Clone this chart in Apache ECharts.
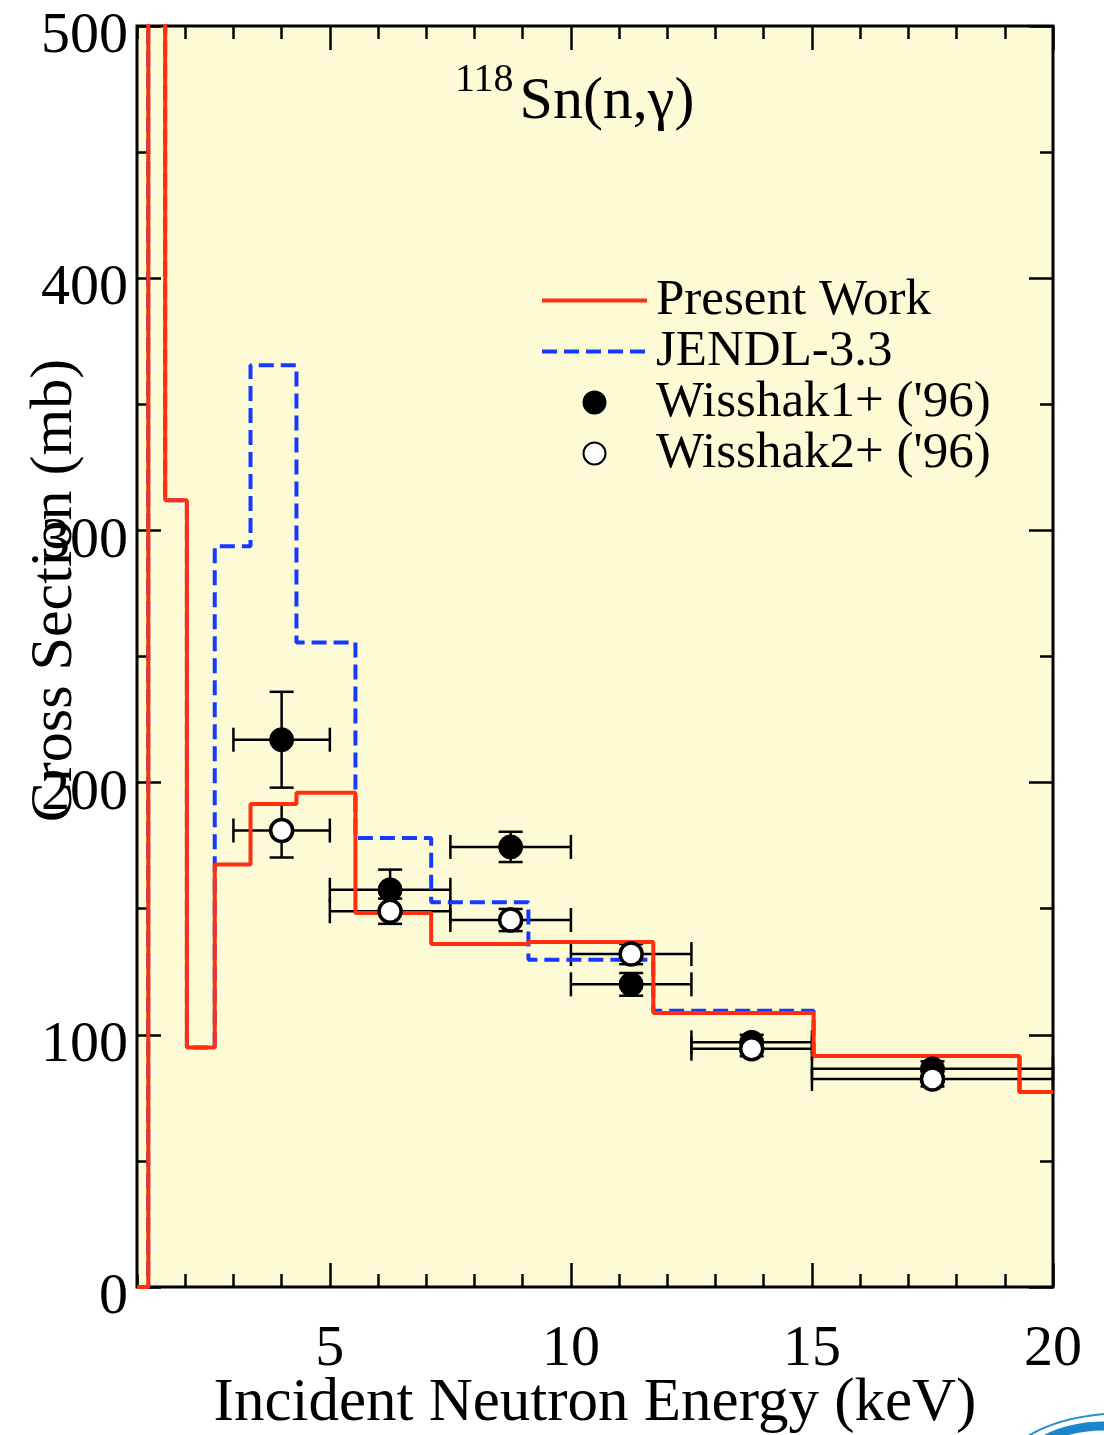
<!DOCTYPE html>
<html>
<head>
<meta charset="utf-8">
<title>118Sn(n,γ) capture cross section</title>
<script src="https://cdn.jsdelivr.net/npm/echarts@6/dist/echarts.min.js"></script>
<style>
  html, body { margin: 0; padding: 0; background: #ffffff; }
  #chart { width: 1104px; height: 1435px; }
</style>
</head>
<body>
<div id="chart"></div>
<script>
// Energy group boundaries (keV) for the evaluated step curves
const groupEdges = [1.0, 1.2341, 1.5846, 2.0347, 2.6126, 3.3546, 4.3074, 5.5308, 7.1017, 9.1188, 11.709, 15.034, 19.305, 20.0];

// Group-averaged capture cross sections (mb), one value per group
const presentWork = [0, 900, 312, 95, 167.5, 191.5, 196, 148.3, 136, 136.8, 108.6, 91.6, 77.3];
const jendl33     = [0, 900, 312, 95, 293.7, 365.5, 255.6, 178, 152.6, 129.8, 109.5, 91.6, 77.3];

// Measured points: energy, energy bin limits, cross section and its uncertainty
const wisshakX    = [4.0, 6.25, 8.75, 11.25, 13.75, 17.5];
const wisshakXLo  = [3.0, 5.0, 7.5, 10.0, 12.5, 15.0];
const wisshakXHi  = [5.0, 7.5, 10.0, 12.5, 15.0, 20.0];
const wisshak1Y   = [217, 157.5, 174.5, 120, 97, 86.5];
const wisshak1Err = [19, 8, 6, 4.5, 3, 3];
const wisshak2Y   = [181, 149, 145.5, 132, 94.5, 82.5];
const wisshak2Err = [10.7, 5, 4.4, 4, 3, 3];

// Axis ticks
const xMajorTicks = [5, 10, 15, 20];
const yMax = 500;
const yStep = 100;

const FONT = "'Liberation Serif', 'DejaVu Serif', serif";
const RED = '#ff3010';
const BLUE = '#1638ff';

function stepData(edges, values) {
  const pts = values.map((v, i) => [edges[i], v]);
  pts.push([edges[edges.length - 1], values[values.length - 1]]);
  return pts;
}

function errorData(ys, errs) {
  return wisshakX.map((x, i) => [x, ys[i], wisshakXLo[i], wisshakXHi[i], ys[i] - errs[i], ys[i] + errs[i]]);
}

function renderErrorBar(params, api) {
  const x = api.value(0), y = api.value(1);
  const pL = api.coord([api.value(2), y]);
  const pR = api.coord([api.value(3), y]);
  const pB = api.coord([x, api.value(4)]);
  const pT = api.coord([x, api.value(5)]);
  const cap = 12;
  const style = { stroke: '#000', lineWidth: 2.5, fill: null };
  const seg = (x1, y1, x2, y2) => ({ type: 'line', shape: { x1, y1, x2, y2 }, style });
  return {
    type: 'group',
    children: [
      seg(pL[0], pL[1], pR[0], pR[1]),
      seg(pL[0], pL[1] - cap, pL[0], pL[1] + cap),
      seg(pR[0], pR[1] - cap, pR[0], pR[1] + cap),
      seg(pB[0], pB[1], pT[0], pT[1]),
      seg(pB[0] - cap, pB[1], pB[0] + cap, pB[1]),
      seg(pT[0] - cap, pT[1], pT[0] + cap, pT[1])
    ]
  };
}

const tickLine = { color: '#000', width: 2.5 };

function xAxisDef(position, major, showLabels) {
  const ax = {
    type: 'value', position, min: 1, max: 20,
    axisLine: { show: false },
    splitLine: { show: false },
    axisTick: { show: true, inside: true, length: major ? 24 : 13, lineStyle: tickLine },
    axisLabel: { show: false }
  };
  if (major) {
    ax.axisTick.customValues = xMajorTicks;
    ax.axisLabel = showLabels
      ? { show: true, customValues: xMajorTicks, fontFamily: FONT, fontSize: 58, color: '#000', margin: 34 }
      : { show: false, customValues: xMajorTicks };
  } else {
    ax.interval = 1;
  }
  if (showLabels) {
    ax.name = 'Incident Neutron Energy (keV)';
    ax.nameLocation = 'middle';
    ax.nameGap = 86;
    ax.nameMoveOverlap = false;
    ax.nameTextStyle = { fontFamily: FONT, fontSize: 61, color: '#000' };
  }
  return ax;
}

function yAxisDef(position, showLabels) {
  const ax = {
    type: 'value', position, min: 0, max: yMax, interval: yStep,
    axisLine: { show: false },
    splitLine: { show: false },
    axisTick: { show: true, inside: true, length: 24, lineStyle: tickLine },
    minorTick: { show: true, splitNumber: 2, length: 13, lineStyle: tickLine },
    axisLabel: showLabels
      ? {
          show: true, margin: 9,
          formatter: v => '{n|' + v + '}',
          rich: { n: { fontFamily: FONT, fontSize: 58, color: '#000', padding: [22, 0, 0, 0] } }
        }
      : { show: false }
  };
  if (showLabels) {
    ax.name = 'Cross Section (mb)';
    ax.nameLocation = 'middle';
    ax.nameGap = 52;
    ax.nameMoveOverlap = false;
    ax.nameTextStyle = { fontFamily: FONT, fontSize: 60, color: '#000', padding: [0, 0, 0, 132] };
  }
  return ax;
}

const chart = echarts.init(document.getElementById('chart'), null, { renderer: 'canvas' });

chart.setOption({
  animation: false,
  backgroundColor: '#ffffff',
  title: {
    text: '{s|118}{m|Sn(n,γ)}',
    left: 455,
    top: 60,
    padding: 0,
    textStyle: {
      fontWeight: 'normal',
      rich: {
        s: { fontFamily: FONT, fontSize: 40, fontWeight: 'normal', color: '#000', lineHeight: 20, verticalAlign: 'top', padding: [0, 6, 0, 0] },
        m: { fontFamily: FONT, fontSize: 60, fontWeight: 'normal', color: '#000', lineHeight: 72, verticalAlign: 'bottom', padding: [12, 0, 0, 0] }
      }
    }
  },
  legend: {
    orient: 'vertical',
    left: 540,
    top: 275,
    padding: 0,
    itemWidth: 105,
    itemHeight: 22,
    itemGap: 0,
    selectedMode: false,
    lineStyle: { width: 4 },
    textStyle: { fontFamily: FONT, fontSize: 51, lineHeight: 50.5, color: '#000', padding: [0, 0, 0, 4] },
    data: [
      { name: 'Present Work', itemStyle: { opacity: 0 }, lineStyle: { width: 4 } },
      { name: 'JENDL-3.3', itemStyle: { opacity: 0 }, lineStyle: { width: 4, type: [15, 7] } },
      { name: "Wisshak1+ ('96)" },
      { name: "Wisshak2+ ('96)" }
    ]
  },
  grid: {
    left: 137, top: 26, right: 51, bottom: 148,
    outerBoundsMode: 'none',
    containLabel: false,
    show: true,
    backgroundColor: '#fdfad6',
    borderColor: '#000',
    borderWidth: 3
  },
  xAxis: [
    xAxisDef('bottom', true, true),
    xAxisDef('bottom', false, false),
    xAxisDef('top', true, false),
    xAxisDef('top', false, false)
  ],
  yAxis: [
    yAxisDef('left', true),
    yAxisDef('right', false)
  ],
  graphic: [
    // corner emblem swoosh
    { type: 'bezierCurve', silent: true, z: 10,
      shape: { x1: 1028, y1: 1436, cpx1: 1058, cpy1: 1418, x2: 1104, y2: 1414 },
      style: { stroke: '#2a8fd0', lineWidth: 2, fill: null } },
    { type: 'bezierCurve', silent: true, z: 10,
      shape: { x1: 1044, y1: 1440, cpx1: 1070, cpy1: 1426, x2: 1104, y2: 1426 },
      style: { stroke: '#1b86cc', lineWidth: 9, fill: null } }
  ],
  series: [
    {
      name: 'err1', type: 'custom', z: 2, silent: true,
      renderItem: renderErrorBar,
      data: errorData(wisshak1Y, wisshak1Err)
    },
    {
      name: 'err2', type: 'custom', z: 2, silent: true,
      renderItem: renderErrorBar,
      data: errorData(wisshak2Y, wisshak2Err)
    },
    {
      name: 'JENDL-3.3', type: 'line', z: 3, step: 'end',
      symbol: 'none', clip: true,
      lineStyle: { color: BLUE, width: 4, type: [15, 7] },
      itemStyle: { color: BLUE },
      data: stepData(groupEdges, jendl33)
    },
    {
      name: 'Present Work', type: 'line', z: 4, step: 'end',
      symbol: 'none', clip: true,
      lineStyle: { color: RED, width: 4 },
      itemStyle: { color: RED },
      data: stepData(groupEdges, presentWork)
    },
    {
      name: "Wisshak1+ ('96)", type: 'scatter', z: 5,
      symbol: 'circle', symbolSize: 24,
      itemStyle: { color: '#000', borderColor: '#000', borderWidth: 1, opacity: 1 },
      data: wisshakX.map((x, i) => [x, wisshak1Y[i]])
    },
    {
      name: "Wisshak2+ ('96)", type: 'scatter', z: 5,
      symbol: 'circle', symbolSize: 22,
      itemStyle: { color: '#fff', borderColor: '#000', borderWidth: 3.5, opacity: 1 },
      data: wisshakX.map((x, i) => [x, wisshak2Y[i]])
    }
  ]
});
</script>
</body>
</html>
